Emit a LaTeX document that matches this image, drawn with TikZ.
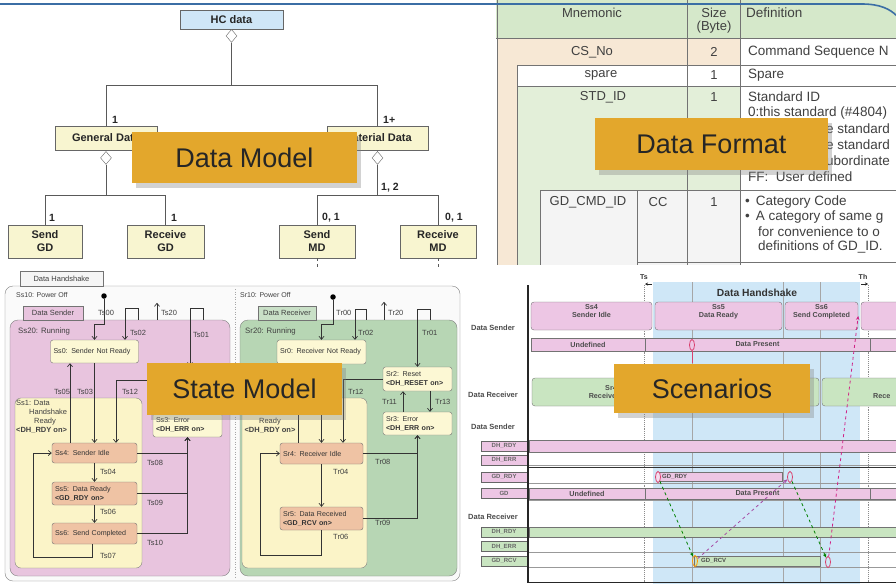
\documentclass[tikz,border=0pt]{standalone}
\usepackage{fontspec}
\setmainfont{Liberation Sans}
\usetikzlibrary{positioning,shapes.geometric,shadows,arrows.meta}

\definecolor{hcblue}{HTML}{CFE6F7}
\definecolor{umlyellow}{HTML}{F8F5D0}
\definecolor{bannerorange}{HTML}{E3A72C}
\definecolor{hdgreen}{HTML}{D5E8CA}
\definecolor{rowbeige}{HTML}{F7E8D5}
\definecolor{rowgreen}{HTML}{E3EFD9}
\definecolor{rowgray}{HTML}{F4F4F4}
\definecolor{sndpink}{HTML}{E8C4DE}
\definecolor{rcvgreen}{HTML}{B7D6B4}
\definecolor{stateyellow}{HTML}{FCF8D4}
\definecolor{ss1yellow}{HTML}{FBF4C8}
\definecolor{salmon}{HTML}{EFC3A4}
\definecolor{barpink}{HTML}{EDC6E4}
\definecolor{bargreen}{HTML}{C9E5C1}
\definecolor{band}{HTML}{CFE7F7}
\definecolor{edgeblue}{HTML}{3B6EA5}
\definecolor{pulsered}{HTML}{D9406E}

\newcommand\setpx[2]{\fontsize{#1}{#2}\selectfont}

\begin{document}
\begin{tikzpicture} [
            x=1pt, y=-1pt,
            class/.style={draw=black!60,fill=umlyellow,inner sep=0pt,align=center,font=\setpx{11}{13}\bfseries,text=black!85},
            agg/.style={diamond,draw=black!60,fill=white,minimum width=11pt,minimum height=13pt,inner sep=0pt},
            link/.style = {draw=black!65,line width=0.9pt},
            mult/.style={font=\setpx{10.5}{12}\bfseries,text=black!85,inner sep=0pt,anchor=west},
            banner/.style={fill=bannerorange,text=black!85,font=\setpx{27}{30},inner sep=0pt,
                drop shadow={shadow xshift=4pt,shadow yshift=-5pt,opacity=0.35}},
            cell/.style={font=\setpx{13}{15},text=black!75,inner sep=0pt},
            defn/.style={cell,font=\setpx{13.5}{15},anchor=west},
            rule/.style = {draw=black!55,line width=0.7pt},
            panel/.style={draw=black!50,inner sep=0pt,rounded corners=8pt},
            tab/.style={draw=black!55,inner sep=0pt,font=\setpx{7.5}{9},text=black!75},
            stbox/.style={draw=black!55,rounded corners=2.5pt,inner xsep=3pt,inner ysep=1pt,font=\setpx{7.1}{9},text=black!80,align=left},
            initdot/.style={circle,fill=black,minimum size=5.5pt,inner sep=0pt},
            trans/.style = {draw=black!80,line width=0.7pt,-{Straight Barb[length=3pt,width=5pt]}},
            tname/.style={font=\setpx{7.5}{9},text=black!75,inner sep=0pt,anchor=west},
            sbar/.style={draw=black!55,rounded corners=3pt,inner sep=0pt},
            sigbar/.style={draw=black!55,inner sep=0pt},
            bartext/.style={font=\setpx{7.2}{8.5}\bfseries,text=black!70,align=center,inner sep=0pt},
            siglabel/.style={draw=black!60,inner sep=0pt,minimum width=46pt,minimum height=10pt,font=\setpx{6}{7}\bfseries,text=black!60},
            pulse/.style={ellipse,draw=pulsered,line width=0.8pt,minimum width=5pt,minimum height=11pt,inner sep=0pt},
            cause/.style = {dashed,line width=0.8pt,-{Stealth[length=4pt,width=3.5pt]}},
        ]
        \fill[white] (0,0) rectangle (896,584);
        \useasboundingbox (0,0) rectangle (896,584);

        % First we draw the classes of the data model
        \foreach \pos/\name/\w/\h/\col/\label in {
                {(231.5,19.5)/hc/103/19/hcblue/HC data},
                {(106,138)/gen/102/24/umlyellow/General Data},
                {(377.5,138)/mat/101/24/umlyellow/Material Data},
                {(45,241.5)/sgd/74/33/umlyellow/Send\\GD},
                {(165.5,241.5)/rgd/77/33/umlyellow/Receive\\GD},
                {(317,241.5)/smd/76/33/umlyellow/Send\\MD},
                {(438,241.5)/rmd/76/33/umlyellow/Receive\\MD}}
            \node[class,fill=\col,minimum width=\w pt,minimum height=\h pt] (\name) at \pos {\label};
        \node[agg,below=0pt of hc] (hcd) {};
        \node[agg,below=1pt of gen] (gend) {};
        \node[agg,below=1pt of mat] (matd) {};
        % Connect classes with aggregation links
        \foreach \source/\bus/\dest in {
                hcd/85/gen,hcd/85/mat,
                gend/195/sgd,gend/195/rgd,
                matd/195/smd,matd/195/rmd}
            \path[link] (\source.south) -- (\source.south |- 0,\bus) -| (\dest.north);
        \foreach \pos/\name/\label in {
                {(112,120)/mgen/1},{(383,120)/mmat/1+},
                {(49,218)/msgd/1},{(171,218)/mrgd/1},
                {(381,188)/mmd/{1, 2}},{(322,218)/msmd/{0, 1}},{(445,218)/mrmd/{0, 1}}}
            \node[mult] (\name) at \pos {\label};
        \draw[link,dashed,line width=0.6pt] (smd.south) -- ++(0,10);
        \draw[link,dashed,line width=0.6pt] (rmd.south) -- ++(0,10);

        % data format table, cut at the right edge
        \begin{scope}
            \clip (496,0) rectangle (896,265);
            \fill[hdgreen] (496,0) rectangle (896,38);
            \fill[rowbeige] (497,38) rectangle (740,65);
            \fill[rowbeige] (497,65) rectangle (517,265);
            \fill[rowgreen] (517,86) rectangle (740,190);
            \fill[rowgreen] (517,190) rectangle (540,265);
            \fill[rowgray] (540,190) rectangle (740,265);
            \foreach \a/\b in {
                    {(496,38)/(896,38)},{(517,65)/(896,65)},{(517,86)/(896,86)},
                    {(540,190)/(896,190)},{(637,262)/(896,262)},
                    {(497,0)/(497,265)},{(517,65)/(517,265)},{(540,190)/(540,265)},
                    {(637,190)/(637,265)},{(687,0)/(687,265)},{(740,0)/(740,265)}}
                \draw[rule] \a -- \b;
            \foreach \pos/\name/\label in {
                    {(592,13)/mnem/Mnemonic},{(714,13)/size/Size},{(714,27)/byte/(Byte)},
                    {(592,52)/csno/CS\_No},{(714,52)/csnosz/2},
                    {(601,75)/spare/spare},{(714,75)/sparesz/1},
                    {(603,97)/stdid/STD\_ID},{(714,97)/stdsz/1},
                    {(588,202)/gdcmd/GD\_CMD\_ID},{(658,202)/cc/CC},{(714,202)/gdsz/1}}
                \node[cell] (\name) at \pos {\label};
            \foreach \pos/\name/\label in {
                    {(746,13)/dhead/Definition},
                    {(748,52)/dcsno/Command Sequence N},
                    {(748,75)/dspare/Spare},
                    {(748,97)/dstd/Standard ID},
                    {(748,113)/dstda/0:this standard (\#4804)},
                    {(826,129)/dstdb/e standard},
                    {(826,145)/dstdc/e standard},
                    {(826,161)/dstdd/ubordinate},
                    {(748,177)/dstde/FF:~~User defined},
                    {(745,202)/dgda/\textbullet\hspace{6pt}Category Code},
                    {(745,217)/dgdb/\textbullet\hspace{6pt}A category of same g},
                    {(758,232)/dgdc/for convenience to o},
                    {(758,247)/dgdd/definitions of GD\_ID.}}
                \node[defn] (\name) at \pos {\label};
        \end{scope}
        \draw[edgeblue,line width=1.6pt] (0,4) -- (862,4) .. controls (880,4) and (890,9) .. (897,16);

        % state model: panel, regions and tabs
        \node[panel,fill=black!2,minimum width=455pt,minimum height=295pt] (hspanel) at (232.5,433.5) {};
        \node[tab,fill=black!4,minimum width=83pt,minimum height=15pt] (dhtab) at (61.5,278.5) {Data Handshake};
        \draw[black!35,dash pattern=on 1pt off 1.5pt] (235,289) -- (235,578);
        \node[tname,font=\setpx{7}{8}] (ss10) at (16,295) {Ss10: Power Off};
        \node[tname,font=\setpx{7}{8}] (sr10) at (240,295) {Sr10: Power Off};
        \node[panel,fill=sndpink,minimum width=220pt,minimum height=256pt] (ss20) at (120,448) {};
        \node[panel,fill=rcvgreen,minimum width=217pt,minimum height=256pt] (sr20) at (348.5,448) {};
        \node[tab,fill=sndpink,minimum width=60pt,minimum height=14pt] (sndtab) at (53,313) {Data Sender};
        \node[tab,fill=rcvgreen!75!white,minimum width=58pt,minimum height=14pt] (rcvtab) at (287,313) {Data Receiver};
        \node[panel,fill=ss1yellow,rounded corners=6pt,minimum width=127pt,minimum height=170pt] (ss1) at (78.5,483) {};
        \node[panel,fill=ss1yellow,rounded corners=6pt,minimum width=125pt,minimum height=170pt] (sr1) at (304.5,483) {};
        \node[tname,font=\setpx{7.8}{9}] (ss20name) at (18,331) {Ss20: Running};
        \node[tname,font=\setpx{7.8}{9}] (sr20name) at (245,331) {Sr20: Running};
        \node[tname,anchor=north west,align=left] (ss1name) at (16,400)
            {Ss1: Data\\\hspace*{13pt}Handshake\\\hspace*{18pt}Ready\\\textbf{<DH\_RDY on>}};
        \node[tname,anchor=north,align=center] (sr1name) at (270,409)
            {Handshake\\Ready\\\textbf{<DH\_RDY on>}};

        % states
        \node[initdot] (ss10i) at (104,296) {};
        \node[initdot] (sr10i) at (333,297) {};
        \foreach \pos/\name/\w/\h/\col/\label [evaluate=\w as \tw using \w-6] in {
                {(94.5,351.5)/s0/88/23/stateyellow/Ss0: Sender Not Ready},
                {(187.5,425)/s3/69/24/stateyellow/Ss3: Error\\\textbf{<DH\_ERR on>}},
                {(94.5,453)/s4/85/20/salmon/Ss4: Sender Idle},
                {(94.5,493.5)/s5/85/23/salmon/Ss5: Data Ready\\\textbf{<GD\_RDY on>}},
                {(94.5,533.5)/s6/85/21/salmon/Ss6: Send Completed},
                {(321.5,352)/r0/89/24/stateyellow/Sr0: Receiver Not Ready},
                {(417.5,379)/r2/69/24/stateyellow/Sr2: Reset\\\textbf{<DH\_RESET on>}},
                {(417.5,423.5)/r3/69/23/stateyellow/Sr3: Error\\\textbf{<DH\_ERR on>}},
                {(321.5,453.5)/r4/83/21/salmon/Sr4: Receiver Idle},
                {(321.5,518.5)/r5/83/23/salmon/Sr5: Data Received\\\textbf{<GD\_RCV on>}}}
            \node[stbox,fill=\col,text width=\tw pt,minimum width=\w pt,minimum height=\h pt] (\name) at \pos {\label};
        \coordinate (ss2in) at (190,366);
        \coordinate (ss2out) at (153,380);

        % transitions
        \foreach \source/\dest in {s0/s4,s4/s5,s5/s6,r0/r4,r4/r5}
            \path[trans] (\source.south) -- (\dest.north);
        \foreach \source/\dest in {s4/s3,s5/s3,s6/s3,r4/r3,r5/r3}
            \path[trans] (\source.east) -| (\dest.south);
        \path[trans] (ss10i) -- ++(0,28) -| (s0.north);
        \path[trans] (ss20.north -| 138,0) -- ++(0,-11) -| (s0.north -| 125,0);
        \path[trans] (ss20.north -| 157,0) -- ++(0,-17);
        \path[trans] (ss20.north -| 203,0) -- ++(0,-11) -| (ss2in);
        \path[trans] (s4.north -| 70,0) -- (s0.south -| 70,0);
        \path[trans] (ss2out) -| (s4.north -| 116,0);
        \path[trans] (s6.south -| 92,0) -- ++(0,13) -| (s4.west -| 33,0) -- (s4.west);
        \path[trans] (sr10i) -- ++(0,27) -| (r0.north);
        \path[trans] (sr20.north -| 366,0) -- ++(0,-10) -| (r0.north -| 355,0);
        \path[trans] (sr20.north -| 384,0) -- ++(0,-18);
        \path[trans] (sr20.north -| 430,0) -- ++(0,-10) -| (r2.north);
        \path[trans] (r3.north -| 403,0) -- (r2.south -| 403,0);
        \path[trans] (r2.south -| 430,0) -- (r3.north -| 430,0);
        \path[trans] (r2.west) -| (r4.north -| 343,0);
        \path[trans] (r4.north -| 298,0) -- (r0.south -| 298,0);
        \path[trans] (r5.south) -- ++(0,25) -| (r4.west -| 260,0) -- (r4.west);
        \foreach \pos/\name/\label in {
                {(98,313)/ts00/Ts00},{(130,333)/ts02/Ts02},{(161,313)/ts20/Ts20},{(193,335)/ts01/Ts01},
                {(54,392)/ts05/Ts05},{(77,392)/ts03/Ts03},{(122,392)/ts12/Ts12},
                {(147,463)/ts08/Ts08},{(147,503)/ts09/Ts09},{(147,543)/ts10/Ts10},
                {(100,472)/ts04/Ts04},{(100,512)/ts06/Ts06},{(100,556)/ts07/Ts07},
                {(336,313)/tr00/Tr00},{(358,333)/tr02/Tr02},{(388,313)/tr20/Tr20},{(422,333)/tr01/Tr01},
                {(348,392)/tr12/Tr12},{(382,402)/tr11/Tr11},{(435,402)/tr13/Tr13},
                {(375,462)/tr08/Tr08},{(333,472)/tr04/Tr04},{(375,523)/tr09/Tr09},{(333,537)/tr06/Tr06}}
            \node[tname] (\name) at \pos {\label};

        % scenarios, cut at the right edge
        \begin{scope}
            \clip (465,266) rectangle (896,584);
            \fill[band] (653,282) rectangle (860,584);
            \foreach \x in {692,783,820}
                \draw[black!35,line width=0.5pt] (\x,282) -- (\x,582);
            \foreach \x in {644,868}
                \draw[black!45,densely dotted,line width=0.9pt] (\x,285) -- (\x,582);
            \foreach \y in {452,465,483,500,537,552,567}
                \draw[black!40,line width=0.5pt] (529,\y) -- (896,\y);
            \draw[black!80,line width=0.8pt] (529,467) -- (896,467);
            \node[font=\setpx{10.3}{12}\bfseries,text=black!80] (dhtitle) at (757,293) {Data Handshake};
            \node[font=\setpx{7}{8}\bfseries,text=black!80] (tsmark) at (644,277) {Ts};
            \node[font=\setpx{7}{8}\bfseries,text=black!80] (thmark) at (863,277) {Th};
            \draw[black!85,line width=0.6pt,-{Stealth[length=3pt,width=3pt]}] (652,284) -- (645,284);
            \draw[black!85,line width=0.6pt,-{Stealth[length=3pt,width=3pt]}] (861,284) -- (868,284);
            % state bars of sender and receiver
            \foreach \l/\r/\name/\label [evaluate=\l as \cx using (\l+\r)/2, evaluate=\l as \w using \r-\l] in {
                    531/652/ss4bar/{Ss4\\Sender Idle},655/782/ss5bar/{Ss5\\Data Ready},
                    785/858/ss6bar/{Ss6\\Send Completed},861/960/ssnbar/{}}
                {
                \node[sbar,fill=barpink,minimum width=\w pt,minimum height=28pt] (\name) at (\cx,316) {};
                \node[bartext,anchor=north] (\name txt) at ([yshift=-2pt]\name.north) {\label};
                }
            \foreach \l/\r/\name/\label [evaluate=\l as \cx using (\l+\r)/2, evaluate=\l as \w using \r-\l] in {
                    531/645/sdundef/Undefined,645/870/sdpresent/Data Present,870/960/sdnext/{}}
                \node[sigbar,fill=barpink,minimum width=\w pt,minimum height=13pt,bartext] (\name) at (\cx,344.5) {\label};
            \foreach \l/\r/\name/\label [evaluate=\l as \cx using (\l+\r)/2, evaluate=\l as \w using \r-\l] in {
                    532/690/rr4bar/{Sr4\\Receiver Idle},694/819/rr5bar/{},822/982/rrnbar/{}}
                \node[sbar,fill=bargreen,minimum width=\w pt,minimum height=28pt,bartext] (\name) at (\cx,392) {\label};
            \node[bartext,anchor=west] (rrnbartxt) at (873,396) {Rece};
            \foreach \pos/\name/\label in {
                    {(493,328)/lsnd/Data Sender},{(493,395)/lrcv/Data Receiver},
                    {(493,427)/lsnd2/Data Sender},{(493,517)/lrcv2/Data Receiver}}
                \node[font=\setpx{7.5}{9}\bfseries,text=black!70,inner sep=0pt] (\name) at \pos {\label};
            % signal rows
            \foreach \pos/\name/\col/\label in {
                    {(504,446)/lsdhrdy/barpink/DH\_RDY},{(504,460)/lsdherr/barpink/DH\_ERR},
                    {(504,477)/lsgdrdy/barpink/GD\_RDY},{(504,493.5)/lsgd/barpink/GD},
                    {(504,532)/lrdhrdy/bargreen/DH\_RDY},{(504,546.5)/lrdherr/bargreen/DH\_ERR},
                    {(504,561)/lrgdrcv/bargreen/GD\_RCV}}
                \node[siglabel,fill=\col] (\name) at \pos {\label};
            \node[sigbar,fill=barpink,anchor=west,minimum width=380pt,minimum height=12pt] (sdhrdy) at (529,446) {};
            \node[sigbar,fill=barpink,anchor=west,minimum width=125pt,minimum height=9pt] (gdrdy) at (657,476.5) {};
            \node[bartext,font=\setpx{6}{7}\bfseries,anchor=west] (gdrdytxt) at (662,476.5) {GD\_RDY};
            \foreach \l/\r/\name/\label [evaluate=\l as \cx using (\l+\r)/2, evaluate=\l as \w using \r-\l] in {
                    529/645/gdundef/Undefined,645/870/gdpresent/Data Present,870/960/gdnext/{}}
                \node[sigbar,fill=barpink,minimum width=\w pt,minimum height=11pt,bartext] (\name) at (\cx,493.5) {\label};
            \node[sigbar,fill=bargreen,anchor=west,minimum width=380pt,minimum height=10pt] (rdhrdy) at (529,532) {};
            \node[sigbar,fill=bargreen,anchor=west,minimum width=126pt,minimum height=10pt] (gdrcv) at (694,561) {};
            \node[bartext,font=\setpx{6}{7}\bfseries,anchor=west] (gdrcvtxt) at (701,561) {GD\_RCV};
            % edges of the pulses and what causes them
            \node[pulse] (sdmark) at (692,345) {};
            \node[pulse,fill=barpink!60!white] (rdyup) at (658,477) {};
            \node[pulse] (rdydown) at (790,477) {};
            \node[pulse,draw=orange!80!yellow] (rcvup) at (695,561) {};
            \node[pulse] (rcvdown) at (828,562) {};
            \draw[pulsered,line width=0.8pt] (sdmark.south) -- ++(0,12);
            \draw[cause,green!50!black] (rdyup) -- (rcvup);
            \draw[cause,violet!70] (rcvup) -- (rdydown);
            \draw[cause,green!50!black] (rdydown) -- (rcvdown);
            \draw[cause,magenta!70!violet] (rcvdown) -- (ss6bar.east);
            \draw[black!85,line width=1.6pt] (528,285) -- (528,582.5) -- (896,582.5);
        \end{scope}

        % the four captions on top
        \node[banner,minimum width=225pt,minimum height=51pt] (dmlabel) at (244.5,157.5) {Data Model};
        \node[banner,minimum width=233pt,minimum height=52pt] (dflabel) at (711.5,144) {Data Format};
        \node[banner,minimum width=195pt,minimum height=52pt] (smlabel) at (244.5,389) {State Model};
        \node[banner,minimum width=196pt,minimum height=49pt] (sclabel) at (712,388.5) {Scenarios};
    \end{tikzpicture}
\end{document}
